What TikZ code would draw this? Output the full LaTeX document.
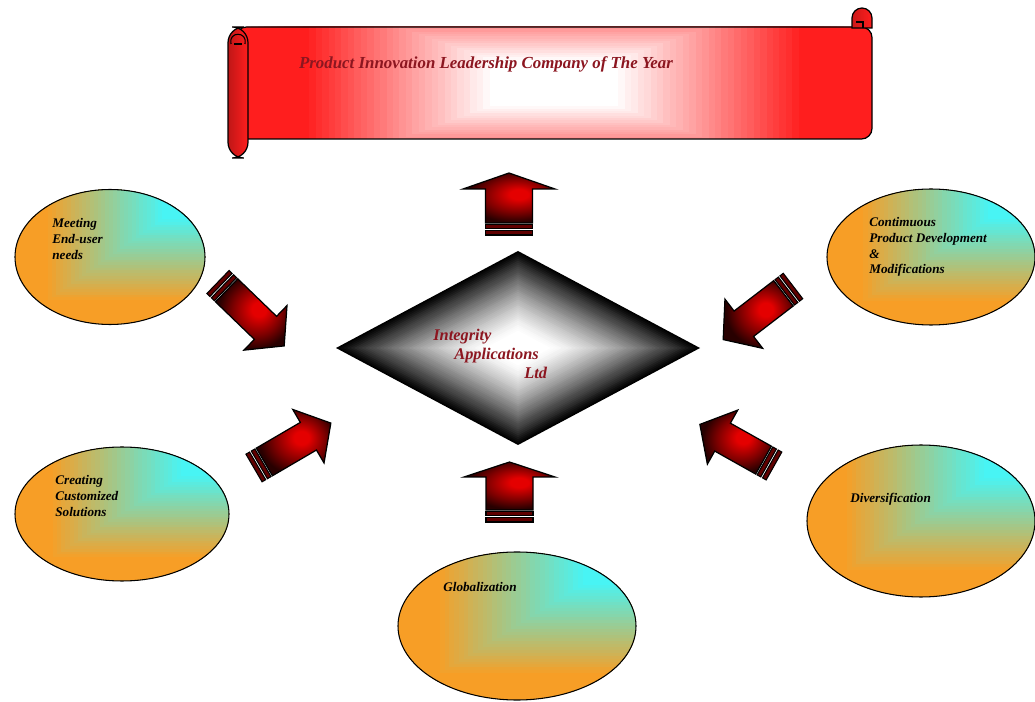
\documentclass[tikz,border=0pt]{standalone}
\usepackage{fontspec}
\setmainfont{Liberation Serif}
\usetikzlibrary{shapes.geometric}
\definecolor{txtred}{RGB}{140,22,32}
\definecolor{ellorange}{RGB}{247,158,38}
\definecolor{ellcyan}{RGB}{72,244,244}
\definecolor{arrred}{RGB}{228,0,0}
\definecolor{arrdark}{RGB}{40,0,0}
\definecolor{banred}{RGB}{255,30,30}
\def\upx{0.02cm}
\pgfdeclareradialshading{arrowshade}{\pgfpoint{6bp}{4bp}}{color(0bp)=(arrred); color(5bp)=(arrred); color(17bp)=(arrdark!55!arrred); color(26bp)=(arrdark); color(50bp)=(arrdark)}
% corner gradient (cyan at top right) inside an ellipse: centre x, centre y, x radius, y radius
\newcommand\gradell[4]{%
  \begin{scope}
    \clip (#1,#2) ellipse (#3 and #4);
    \foreach \i in {0,...,50}{
      \pgfmathsetmacro\s{1-\i/50}
      \pgfmathsetmacro\p{round(max(0,min(100,(\s-0.22)/0.62*100)))}
      \fill[ellorange!\p!ellcyan] (#1+#3-2*#3*\s-1,#2-#4-1) rectangle (#1+#3+1,#2-#4+2*#4*\s);
    }
  \end{scope}}
\tikzset{
  ellnode/.style={ellipse, draw=black, line width=0.6pt, inner sep=0pt},
  elltext/.style={anchor=north west, inner sep=0pt, align=left, text=black,
    font=\bfseries\itshape\fontsize{7.5}{9}\selectfont},
  diamtext/.style={anchor=base west, inner sep=0pt, text=txtred,
    font=\bfseries\itshape\fontsize{9.3}{11}\selectfont},
  bantext/.style={inner sep=0pt, text=txtred, font=\bfseries\itshape\fontsize{9.6}{11}\selectfont},
  outline/.style={draw=black, line width=0.7pt},
  pics/blockarrow/.style args={#1/#2/#3/#4}{
    code={
      \shadedraw[shading=arrowshade, outline, line join=miter]
        (12,-#4) -- (#1-#2,-#4) -- (#1-#2,-#3) -- (#1,0) -- (#1-#2,#3) -- (#1-#2,#4) -- (12,#4) -- cycle;
      \filldraw[fill=arrdark!70!arrred, draw=black, line width=0.6pt] (6.2,-#4) rectangle (10.4,#4);
      \filldraw[fill=arrdark!70!arrred, draw=black, line width=0.6pt] (0,-#4) rectangle (4.2,#4);
    }
  }
}
\begin{document}
\begin{tikzpicture}[x=0.02cm, y=-0.02cm]
\useasboundingbox (0,0) rectangle (1035,702);
\fill[white] (0,0) rectangle (1035,702);

% ---------- banner ----------
\begin{scope}
  \clip[rounded corners=6] (236,27) rectangle (872,139);
  \foreach \i in {0,...,50}{
    \pgfmathsetmacro\s{1-\i/50}
    \pgfmathsetmacro\p{round(max(0,min(100,(\s-0.2)/0.58*100)))}
    \fill[banred!\p!white] (554-322*\s,83-117*\s) rectangle (554+322*\s,83+117*\s);
  }
\end{scope}
\draw[outline, rounded corners=6] (236,27) rectangle (872,139);
% right roll cap
\shadedraw[outline, left color=banred!80!black, right color=banred]
  (852,28) -- (852,18) arc (180:360:10) -- (872,28) -- cycle;
\draw[line width=0.6pt] (856,22) -- (863,22) -- (863,28);
% left roll
\shadedraw[outline, left color=banred!75!black, right color=banred, rounded corners=9]
  (228,27) rectangle (248,158);
\draw[line width=0.6pt] (231,44) .. controls (228,31) and (248,31) .. (245,44);
\draw[line width=0.6pt] (234,44) -- (242,44);
\node[bantext] (title) at (486,64) {Product Innovation Leadership Company of The Year};

% ---------- diamond ----------
\foreach \i in {0,...,50}{
  \pgfmathsetmacro\s{1-\i/50}
  \pgfmathsetmacro\t{max(0.001,(\s-0.18)/0.82)}
  \pgfmathsetmacro\p{round(max(0,min(100,100*\t^1.3)))}
  \fill[black!\p!white] (518-182*\s,348) -- (518,348-97*\s) -- (518+182*\s,348) -- (518,348+97*\s) -- cycle;
}
\coordinate (diam) at (518,348);
\node[diamtext] (d1) at (433,341) {Integrity};
\node[diamtext] (d2) at (454,360) {Applications};
\node[diamtext] (d3) at (524,379) {Ltd};

% ---------- ellipses ----------
\gradell{110}{257}{95}{67.5}
\node[ellnode, minimum width=190*\upx, minimum height=135*\upx] (meet) at (110,257) {};
\node[elltext] (meettext) at (52,218) {Meeting\\End-user\\needs};

\gradell{931}{257}{104}{68}
\node[ellnode, minimum width=208*\upx, minimum height=136*\upx] (cont) at (931,257) {};
\node[elltext] (conttext) at (869,217) {Contimuous\\Product Development\\\&\\Modifications};

\gradell{122}{514}{107}{67}
\node[ellnode, minimum width=214*\upx, minimum height=134*\upx] (creat) at (122,514) {};
\node[elltext] (creattext) at (55,475) {Creating\\Customized\\Solutions};

\gradell{517}{626}{119}{74}
\node[ellnode, minimum width=238*\upx, minimum height=148*\upx] (glob) at (517,626) {};
\node[elltext] (globtext) at (443,582) {Globalization};

\gradell{921}{521}{114}{76}
\node[ellnode, minimum width=228*\upx, minimum height=152*\upx] (div) at (921,521) {};
\node[elltext] (divtext) at (850,493) {Diversification};

% ---------- block arrows ----------
\pic[rotate=90] (up1) at (509,235) {blockarrow=62/16/46/23.5};
\pic[rotate=90] (up2) at (509.5,522) {blockarrow=60/15/45.5/23.5};
\pic[rotate=-44] (a1) at (218,282) {blockarrow=92/26/31/16};
\pic[rotate=-142.5] (a2) at (793,286) {blockarrow=88/26/31/16};
\pic[rotate=30.3] (a3) at (254,468) {blockarrow=89/26/31/16};
\pic[rotate=150.7] (a4) at (774,466) {blockarrow=85/26/31/16};
\end{tikzpicture}
\end{document}
